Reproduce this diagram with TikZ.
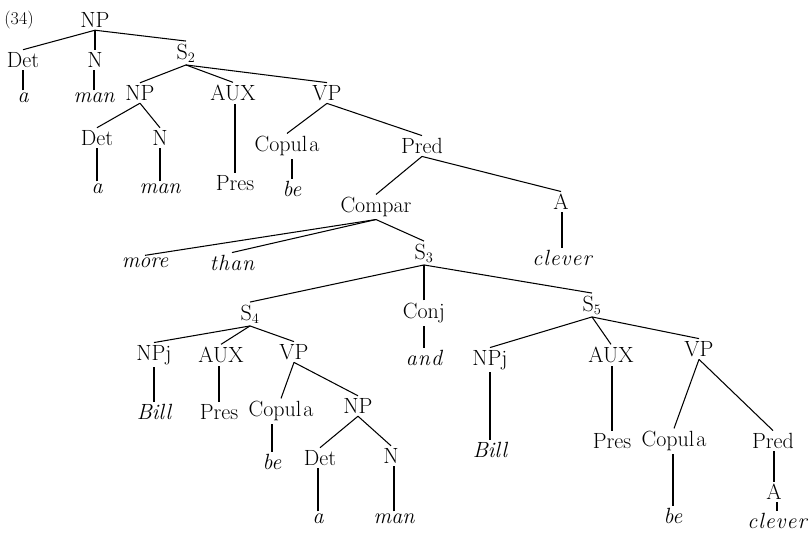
\documentclass[tikz,border=0pt]{standalone}
\begin{document}
\begin{tikzpicture}[x=1pt,y=-1pt,
  every node/.style={font=\fontsize{22}{26}\selectfont, inner sep=2.5pt},
  lex/.style={font=\fontsize{22}{26}\selectfont\itshape},
  edge/.style={line width=1.05pt}]
\useasboundingbox (0,0) rectangle (809,541);

\node[font=\fontsize{18}{21}\selectfont] (num) at (19,20) {(34)};

% main clause
\node (np0) at (95,20) {NP};
\node (det0) at (23,60) {Det};
\node (n0) at (95,60) {N};
\node (s2) at (186,53) {S$_2$};
\node[lex] (a0) at (23,98) {a};
\node[lex] (man0) at (94,98) {man};

% S2
\node (np1) at (140,93) {NP};
\node (aux1) at (233,93) {AUX};
\node (vp1) at (327,93) {VP};
\node (det1) at (97,138) {Det};
\node (n1) at (160,138) {N};
\node[lex] (a1) at (97,189) {a};
\node[lex] (man1) at (160,189) {man};
\node (pres1) at (235,183) {Pres};
\node (cop1) at (287,146) {Copul\kern2pt a};
\node (pred1) at (422,146) {Pred};
\node[lex] (be1) at (292,189) {be};
\node (compar) at (376,207) {Compar};
\node (adj1) at (561,202) {A};
\node[lex] (clever1) at (562,258) {c\kern1pt l\kern1pt e\kern1pt v\kern1pt e\kern1pt r};
\node[lex] (more) at (145,263) {more};
\node[lex] (than) at (232,263) {t\kern1pt h\kern1pt a\kern1pt n};
\node (s3) at (424,253) {S$_3$};

% S3
\node (s4) at (250,314) {S$_4$};
\node (conj) at (424,313) {Conj};
\node (s5) at (592,305) {S$_5$};
\node[lex] (and) at (424,358) {a\kern1pt n\kern1pt d};

% S4
\node (npj4) at (154,355) {NPj};
\node (aux4) at (221,355) {AUX};
\node (vp4) at (294,352) {VP};
\node[lex] (bill4) at (154,412) {Bill};
\node (pres4) at (219,412) {Pres};
\node (cop4) at (281,411) {Copul\kern2pt a};
\node (np4) at (358,406) {NP};
\node[lex] (be4) at (272,462) {be};
\node (det4) at (320,458) {Det};
\node (n4) at (391,456) {N};
\node[lex] (a4) at (318,519) {a};
\node[lex] (man4) at (394,519) {man};

% S5
\node (npj5) at (490,360) {NPj};
\node (aux5) at (611,355) {AUX};
\node (vp5) at (699,349) {VP};
\node[lex] (bill5) at (490,450) {Bill};
\node (pres5) at (612,441) {Pres};
\node (cop5) at (674,441) {Copul\kern2pt a};
\node (pred5) at (773,441) {Pred};
\node[lex] (be5) at (673,516) {be};
\node (adj5) at (774,492) {A};
\node[lex] (clever5) at (777,521) {c\kern1pt l\kern1pt e\kern1pt v\kern1pt e\kern1pt r};

% branching connectors
\foreach \p/\c in {np0/det0, np0/s2,
    s2/np1, s2/aux1, s2/vp1, np1/det1, np1/n1,
    vp1/cop1, vp1/pred1, pred1/compar, pred1/adj1,
    compar/more, compar/than, compar/s3,
    s3/s4, s3/s5,
    s4/npj4, s4/aux4, s4/vp4, vp4/cop4, vp4/np4,
    np4/det4, np4/n4,
    s5/npj5, s5/aux5, s5/vp5, vp5/cop5, vp5/pred5}
  \draw[edge] (\p.south) -- (\c.north);

% single-daughter connectors, drawn vertically
\foreach \p/\c in {np0/n0, det0/a0, n0/man0, det1/a1, n1/man1,
    aux1/pres1, cop1/be1, adj1/clever1, s3/conj, conj/and,
    npj4/bill4, aux4/pres4, cop4/be4, det4/a4, n4/man4,
    npj5/bill5, aux5/pres5, cop5/be5, pred5/adj5, adj5/clever5}
  \draw[edge] (\c.north) -- (\c.north |- \p.south);
\end{tikzpicture}
\end{document}
